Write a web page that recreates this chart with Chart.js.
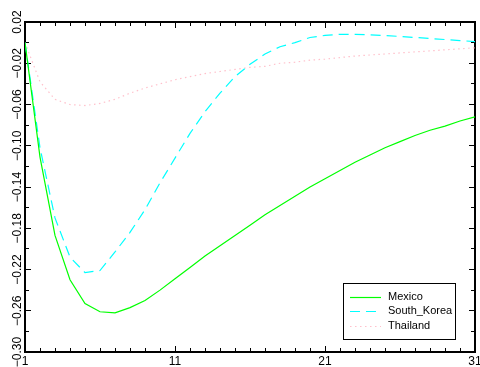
<!DOCTYPE html>
<html><head><meta charset="utf-8">
<script src="https://cdn.jsdelivr.net/npm/chart.js@4/dist/chart.umd.min.js"></script>
<style>html,body{margin:0;padding:0;background:#fff;}canvas{display:block;}</style>
</head><body>
<canvas id="c" width="480" height="367"></canvas>
<script>
const periods = [1,2,3,4,5,6,7,8,9,10,11,12,13,14,15,16,17,18,19,20,21,22,23,24,25,26,27,28,29,30,31];
const mexico = [0.0,-0.111,-0.187,-0.230,-0.253,-0.261,-0.262,-0.257,-0.250,-0.240,-0.229,-0.218,-0.207,-0.197,-0.187,-0.177,-0.167,-0.158,-0.149,-0.140,-0.132,-0.124,-0.116,-0.109,-0.102,-0.096,-0.090,-0.085,-0.081,-0.076,-0.072];
const southKorea = [0.0,-0.102,-0.170,-0.208,-0.223,-0.221,-0.203,-0.184,-0.162,-0.136,-0.112,-0.088,-0.067,-0.049,-0.033,-0.021,-0.011,-0.004,0.000,0.005,0.007,0.008,0.008,0.0075,0.0068,0.006,0.005,0.004,0.003,0.002,0.001];
const thailand = [0.0,-0.038,-0.055,-0.060,-0.061,-0.059,-0.055,-0.049,-0.044,-0.040,-0.036,-0.033,-0.030,-0.028,-0.026,-0.024,-0.023,-0.020,-0.019,-0.017,-0.016,-0.0145,-0.013,-0.012,-0.011,-0.010,-0.009,-0.008,-0.007,-0.006,-0.005];
const seriesNames = ['Mexico','South_Korea','Thailand'];
const xTickLabels = [1, 11, 21, 31];
const yTickLabels = [0.02, -0.02, -0.06, -0.10, -0.14, -0.18, -0.22, -0.26, -0.30];

const X_MIN = 1, X_MAX = 31, Y_MIN = -0.30, Y_MAX = 0.02;

Chart.defaults.font.family = "'Liberation Sans', Arial, sans-serif";
Chart.defaults.font.size = 12;
Chart.defaults.color = '#000';

function pts(vals){ return periods.map((p,i)=>({x:p, y:vals[i]})); }
function fmtY(v){ return (v < -1e-9 ? '\u2212' : '') + Math.abs(v).toFixed(2); }

const blackBorder = {display:true, color:'#000', width:2};
const noBorder = {display:false};
function gridOpts(tl){ return {drawOnChartArea:false, drawTicks:true, tickLength:tl, color:'#000', tickColor:'#000', tickWidth:1}; }
function fixSize(prop, val){
  return s => { s[prop] = val; s.paddingLeft = 0; s.paddingRight = 0; s.paddingTop = 0; s.paddingBottom = 0; };
}

const legendPlugin = {
  id:'boxLegend',
  afterDraw(chart){
    const ctx = chart.ctx;
    const left = 343.5, top = 283.5, w = 112, h = 56;
    ctx.save();
    ctx.fillStyle = '#fff';
    ctx.fillRect(left, top, w, h);
    ctx.strokeStyle = '#000'; ctx.lineWidth = 1; ctx.setLineDash([]);
    ctx.strokeRect(left, top, w, h);
    ctx.font = "11px 'Liberation Sans', Arial, sans-serif";
    ctx.textBaseline = 'middle'; ctx.textAlign = 'left';
    chart.data.datasets.forEach((ds, i) => {
      const y = 296.5 + i * 14.5;
      ctx.strokeStyle = ds.borderColor; ctx.lineWidth = 1.2;
      ctx.setLineDash(ds.borderDash || []);
      ctx.beginPath(); ctx.moveTo(350, Math.round(y)+0.5); ctx.lineTo(381, Math.round(y)+0.5); ctx.stroke();
      ctx.setLineDash([]);
      ctx.fillStyle = '#000';
      ctx.fillText(ds.label, 388, y);
    });
    ctx.restore();
  }
};

new Chart(document.getElementById('c'), {
  type:'line',
  data:{
    datasets:[
      {label:seriesNames[0], data:pts(mexico), borderColor:'#00ff00', borderWidth:1.2, pointRadius:0, tension:0, fill:false},
      {label:seriesNames[1], data:pts(southKorea), borderColor:'#00ffff', borderWidth:1.2, borderDash:[10,6], pointRadius:0, tension:0, fill:false},
      {label:seriesNames[2], data:pts(thailand), borderColor:'#ffc0cb', borderWidth:1.2, borderDash:[1.5,3.5], pointRadius:0, tension:0, fill:false}
    ]
  },
  options:{
    responsive:false, animation:false, devicePixelRatio:1,
    layout:{padding:{top:22, right:5, left:0, bottom:0}},
    plugins:{legend:{display:false}, tooltip:{enabled:false}},
    scales:{
      x:{type:'linear', position:'bottom', weight:1, min:X_MIN, max:X_MAX,
         afterBuildTicks:s=>{ s.ticks = xTickLabels.map(v=>({value:v})); },
         afterFit:fixSize('height', 15),
         border:blackBorder, grid:gridOpts(-6),
         ticks:{autoSkip:false, maxRotation:0, minRotation:0, padding:8, callback:v=>String(v)}},
      xMinB:{type:'linear', position:'bottom', weight:0, min:X_MIN, max:X_MAX,
         afterFit:fixSize('height', 0),
         border:noBorder, grid:gridOpts(-4),
         ticks:{display:false, stepSize:1, autoSkip:false}},
      xTop:{type:'linear', position:'top', weight:0, min:X_MIN, max:X_MAX,
         afterBuildTicks:s=>{ s.ticks = xTickLabels.map(v=>({value:v})); },
         afterFit:fixSize('height', 0),
         border:blackBorder, grid:gridOpts(-6),
         ticks:{display:false, autoSkip:false}},
      xTopMin:{type:'linear', position:'top', weight:1, min:X_MIN, max:X_MAX,
         afterFit:fixSize('height', 0),
         border:noBorder, grid:gridOpts(-4),
         ticks:{display:false, stepSize:1, autoSkip:false}},
      y:{type:'linear', position:'left', weight:1, min:Y_MIN, max:Y_MAX,
         afterBuildTicks:s=>{ s.ticks = yTickLabels.map(v=>({value:v})); },
         afterFit:fixSize('width', 25),
         border:blackBorder, grid:gridOpts(-6),
         ticks:{autoSkip:false, minRotation:90, maxRotation:90, crossAlign:'center', padding:-2, callback:v=>fmtY(v)}},
      yMinL:{type:'linear', position:'left', weight:0, min:Y_MIN, max:Y_MAX,
         afterFit:fixSize('width', 0),
         border:noBorder, grid:gridOpts(-4),
         ticks:{display:false, stepSize:0.02, autoSkip:false}},
      yR:{type:'linear', position:'right', weight:0, min:Y_MIN, max:Y_MAX,
         afterBuildTicks:s=>{ s.ticks = yTickLabels.map(v=>({value:v})); },
         afterFit:fixSize('width', 0),
         border:blackBorder, grid:gridOpts(-6),
         ticks:{display:false, autoSkip:false}},
      yRMin:{type:'linear', position:'right', weight:1, min:Y_MIN, max:Y_MAX,
         afterFit:fixSize('width', 0),
         border:noBorder, grid:gridOpts(-4),
         ticks:{display:false, stepSize:0.02, autoSkip:false}}
    }
  },
  plugins:[legendPlugin]
});
</script>
</body></html>
